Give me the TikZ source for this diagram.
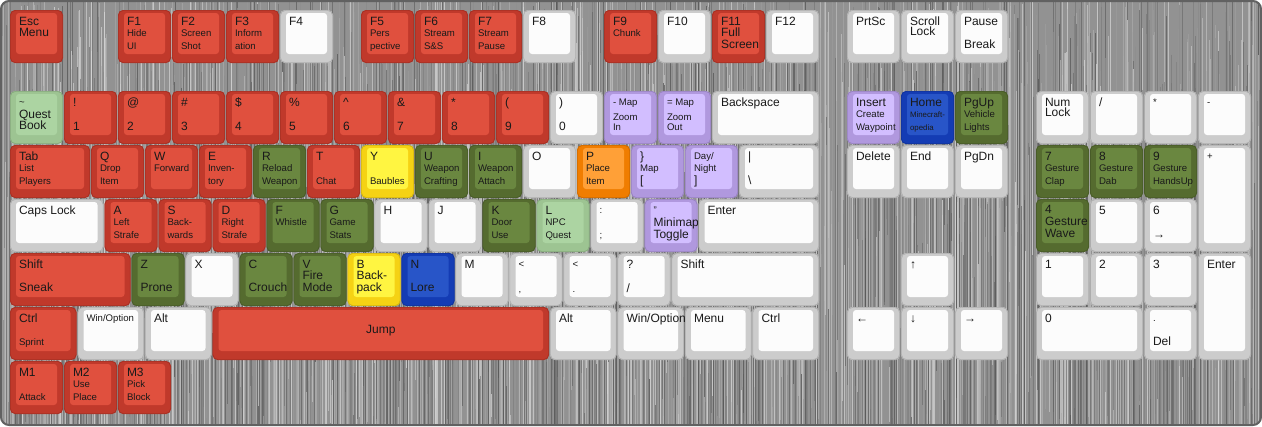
\documentclass[tikz,border=0pt]{standalone}
\usepackage{fontspec}
\setmainfont{Liberation Sans}
\newcounter{labn}
\definecolor{txt}{RGB}{26,26,26}
\definecolor{rdo}{RGB}{192,57,43}\definecolor{rdi}{RGB}{224,80,62}
\definecolor{dgo}{RGB}{85,107,47}\definecolor{dgi}{RGB}{106,135,64}
\definecolor{lgo}{RGB}{157,196,146}\definecolor{lgi}{RGB}{172,212,162}
\definecolor{yeo}{RGB}{245,210,20}\definecolor{yei}{RGB}{255,245,65}
\definecolor{blo}{RGB}{20,60,180}\definecolor{bli}{RGB}{40,85,200}
\definecolor{puo}{RGB}{176,152,222}\definecolor{pui}{RGB}{210,190,255}
\definecolor{oro}{RGB}{240,125,0}\definecolor{ori}{RGB}{255,160,55}
\definecolor{who}{RGB}{204,204,204}\definecolor{whi}{RGB}{252,252,252}
\definecolor{bgbase}{RGB}{146,146,146}
\newcommand\fL{\fontsize{9}{10}\selectfont}
\newcommand\fS{\fontsize{7.2}{8}\selectfont}
\newcommand\fT{\fontsize{5.9}{7}\selectfont}
\tikzset{lab/.style={inner sep=0pt,outer sep=0pt,text=txt}}
\newcommand\kbkey[7]{%
  \setcounter{labn}{0}%
  \def\kn{#1}%
  \pgfmathsetmacro\kx{10+#2*54}%
  \pgfmathsetmacro\ky{10+#3*54}%
  \pgfmathsetmacro\kw{#4*54-1}%
  \pgfmathsetmacro\kh{#5*54-1}%
  \fill[#6o,rounded corners=3.75pt] (\kx,\ky) rectangle ++(\kw,\kh);
  \draw[#6o!85!black,line width=0.5pt,rounded corners=3.75pt] (\kx+0.4,\ky+0.4) rectangle (\kx+\kw-0.4,\ky+\kh-0.4);
  \fill[#6i,rounded corners=2.25pt] (\kx+6,\ky+3) rectangle (\kx+\kw-6,\ky+\kh-9);
  #7}
\newcommand\KT[3]{\stepcounter{labn}\edef\nn{\kn-\arabic{labn}}%
  \node[lab,font=#2,anchor=base west] (\nn) at (\kx+9,\ky+#1) {#3};}
\newcommand\lbA[1]{\KT{15}{\fL}{#1}}
\newcommand\lbB[1]{\KT{26.7}{\fL}{#1}}
\newcommand\lbC[1]{\KT{38.7}{\fL}{#1}}
\newcommand\smA[1]{\KT{14}{\fS}{#1}}
\newcommand\smB[1]{\KT{26}{\fS}{#1}}
\newcommand\smC[1]{\KT{39}{\fS}{#1}}
\newcommand\ctr[1]{\stepcounter{labn}\edef\nn{\kn-\arabic{labn}}%
  \node[lab,font=\fL,anchor=center] (\nn) at (\kx+\kw/2,\ky+23.5) {#1};}
\begin{document}
\begin{tikzpicture}[x=0.75pt,y=-0.75pt]
\useasboundingbox (0,0) rectangle (1262,426);
\fill[white] (0,0) rectangle (1262,426);
\begin{scope}
\clip[rounded corners=6pt] (1,1) rectangle (1261,425);
\fill[bgbase] (0,0) rectangle (1262,426);
\pgfmathsetseed{7}
\foreach \i in {1,...,2400}{%
  \pgfmathsetmacro\rx{1+1260*rnd}%
  \pgfmathsetmacro\rg{33+52*rnd}%
  \pgfmathsetmacro\ry{-40+300*rnd}%
  \pgfmathsetmacro\rl{150+400*rnd}%
  \pgfmathsetmacro\rw{0.25+0.4*rnd}%
  \draw[line width=\rw pt,draw={white!\rg!black},opacity=0.75] (\rx,\ry) -- ++(0,\rl);
}
\end{scope}
\draw[black!62,line width=1.5pt,rounded corners=6pt] (1,1) rectangle (1261,425);
% row 0
\kbkey{esc}{0}{0}{1}{1}{rd}{\lbA{Esc}\lbB{Menu}}
\kbkey{f1}{2}{0}{1}{1}{rd}{\lbA{F1}\smB{Hide}\smC{UI}}
\kbkey{f2}{3}{0}{1}{1}{rd}{\lbA{F2}\smB{Screen}\smC{Shot}}
\kbkey{f3}{4}{0}{1}{1}{rd}{\lbA{F3}\smB{Inform}\smC{ation}}
\kbkey{f4}{5}{0}{1}{1}{wh}{\lbA{F4}}
\kbkey{f5}{6.5}{0}{1}{1}{rd}{\lbA{F5}\smB{Pers}\smC{pective}}
\kbkey{f6}{7.5}{0}{1}{1}{rd}{\lbA{F6}\smB{Stream}\smC{S\&S}}
\kbkey{f7}{8.5}{0}{1}{1}{rd}{\lbA{F7}\smB{Stream}\smC{Pause}}
\kbkey{f8}{9.5}{0}{1}{1}{wh}{\lbA{F8}}
\kbkey{f9}{11}{0}{1}{1}{rd}{\lbA{F9}\smB{Chunk}}
\kbkey{f10}{12}{0}{1}{1}{wh}{\lbA{F10}}
\kbkey{f11}{13}{0}{1}{1}{rd}{\lbA{F11}\lbB{Full}\lbC{Screen}}
\kbkey{f12}{14}{0}{1}{1}{wh}{\lbA{F12}}
\kbkey{prtsc}{15.5}{0}{1}{1}{wh}{\lbA{PrtSc}}
\kbkey{scrlk}{16.5}{0}{1}{1}{wh}{\lbA{Scroll}\KT{25.5}{\fL}{Lock}}
\kbkey{pause}{17.5}{0}{1}{1}{wh}{\lbA{Pause}\lbC{Break}}
% row 1
\kbkey{grave}{0}{1.5}{1}{1}{lg}{\smA{\textasciitilde}\KT{27.2}{\fL}{Quest}\lbC{Book}}
\kbkey{n1}{1}{1.5}{1}{1}{rd}{\lbA{!}\KT{39.5}{\fL}{1}}
\kbkey{n2}{2}{1.5}{1}{1}{rd}{\lbA{@}\KT{39.5}{\fL}{2}}
\kbkey{n3}{3}{1.5}{1}{1}{rd}{\lbA{\#}\KT{39.5}{\fL}{3}}
\kbkey{n4}{4}{1.5}{1}{1}{rd}{\lbA{\$}\KT{39.5}{\fL}{4}}
\kbkey{n5}{5}{1.5}{1}{1}{rd}{\lbA{\%}\KT{39.5}{\fL}{5}}
\kbkey{n6}{6}{1.5}{1}{1}{rd}{\lbA{\textasciicircum}\KT{39.5}{\fL}{6}}
\kbkey{n7}{7}{1.5}{1}{1}{rd}{\lbA{\&}\KT{39.5}{\fL}{7}}
\kbkey{n8}{8}{1.5}{1}{1}{rd}{\lbA{*}\KT{39.5}{\fL}{8}}
\kbkey{n9}{9}{1.5}{1}{1}{rd}{\lbA{(}\KT{39.5}{\fL}{9}}
\kbkey{n0}{10}{1.5}{1}{1}{wh}{\lbA{)}\KT{39.5}{\fL}{0}}
\kbkey{minus}{11}{1.5}{1}{1}{pu}{\smA{- Map}\KT{29}{\fS}{Zoom}\KT{39}{\fS}{In}}
\kbkey{equal}{12}{1.5}{1}{1}{pu}{\smA{= Map}\KT{29}{\fS}{Zoom}\KT{39}{\fS}{Out}}
\kbkey{bksp}{13}{1.5}{2}{1}{wh}{\lbA{Backspace}}
\kbkey{ins}{15.5}{1.5}{1}{1}{pu}{\lbA{Insert}\smB{Create}\smC{Waypoint}}
\kbkey{home}{16.5}{1.5}{1}{1}{bl}{\lbA{Home}\KT{26}{\fT}{Minecraft-}\KT{39}{\fT}{opedia}}
\kbkey{pgup}{17.5}{1.5}{1}{1}{dg}{\lbA{PgUp}\smB{Vehicle}\smC{Lights}}
\kbkey{numlk}{19}{1.5}{1}{1}{wh}{\lbA{Num}\KT{25.7}{\fL}{Lock}}
\kbkey{kpslash}{20}{1.5}{1}{1}{wh}{\lbA{/}}
\kbkey{kpstar}{21}{1.5}{1}{1}{wh}{\smA{*}}
\kbkey{kpminus}{22}{1.5}{1}{1}{wh}{\smA{-}}
% row 2
\kbkey{tab}{0}{2.5}{1.5}{1}{rd}{\lbA{Tab}\smB{List}\smC{Players}}
\kbkey{q}{1.5}{2.5}{1}{1}{rd}{\lbA{Q}\smB{Drop}\smC{Item}}
\kbkey{w}{2.5}{2.5}{1}{1}{rd}{\lbA{W}\smB{Forward}}
\kbkey{e}{3.5}{2.5}{1}{1}{rd}{\lbA{E}\smB{Inven-}\smC{tory}}
\kbkey{r}{4.5}{2.5}{1}{1}{dg}{\lbA{R}\smB{Reload}\smC{Weapon}}
\kbkey{t}{5.5}{2.5}{1}{1}{rd}{\lbA{T}\smC{Chat}}
\kbkey{y}{6.5}{2.5}{1}{1}{ye}{\lbA{Y}\smC{Baubles}}
\kbkey{u}{7.5}{2.5}{1}{1}{dg}{\lbA{U}\smB{Weapon}\smC{Crafting}}
\kbkey{i}{8.5}{2.5}{1}{1}{dg}{\lbA{I}\smB{Weapon}\smC{Attach}}
\kbkey{o}{9.5}{2.5}{1}{1}{wh}{\lbA{O}}
\kbkey{p}{10.5}{2.5}{1}{1}{or}{\lbA{P}\smB{Place}\smC{Item}}
\kbkey{lbrack}{11.5}{2.5}{1}{1}{pu}{\lbA{\}}\smB{Map}\KT{39.5}{\fL}{[}}
\kbkey{rbrack}{12.5}{2.5}{1}{1}{pu}{\smA{Day/}\smB{Night}\KT{39.5}{\fL}{]}}
\kbkey{bslash}{13.5}{2.5}{1.5}{1}{wh}{\lbA{|}\KT{39.5}{\fL}{\textbackslash}}
\kbkey{del}{15.5}{2.5}{1}{1}{wh}{\lbA{Delete}}
\kbkey{end}{16.5}{2.5}{1}{1}{wh}{\lbA{End}}
\kbkey{pgdn}{17.5}{2.5}{1}{1}{wh}{\lbA{PgDn}}
\kbkey{kp7}{19}{2.5}{1}{1}{dg}{\lbA{7}\smB{Gesture}\smC{Clap}}
\kbkey{kp8}{20}{2.5}{1}{1}{dg}{\lbA{8}\smB{Gesture}\smC{Dab}}
\kbkey{kp9}{21}{2.5}{1}{1}{dg}{\lbA{9}\smB{Gesture}\smC{HandsUp}}
\kbkey{kpplus}{22}{2.5}{1}{2}{wh}{\smA{+}}
% row 3
\kbkey{caps}{0}{3.5}{1.75}{1}{wh}{\lbA{Caps Lock}}
\kbkey{a}{1.75}{3.5}{1}{1}{rd}{\lbA{A}\smB{Left}\smC{Strafe}}
\kbkey{s}{2.75}{3.5}{1}{1}{rd}{\lbA{S}\smB{Back-}\smC{wards}}
\kbkey{d}{3.75}{3.5}{1}{1}{rd}{\lbA{D}\smB{Right}\smC{Strafe}}
\kbkey{f}{4.75}{3.5}{1}{1}{dg}{\lbA{F}\smB{Whistle}}
\kbkey{g}{5.75}{3.5}{1}{1}{dg}{\lbA{G}\smB{Game}\smC{Stats}}
\kbkey{h}{6.75}{3.5}{1}{1}{wh}{\lbA{H}}
\kbkey{j}{7.75}{3.5}{1}{1}{wh}{\lbA{J}}
\kbkey{k}{8.75}{3.5}{1}{1}{dg}{\lbA{K}\smB{Door}\smC{Use}}
\kbkey{l}{9.75}{3.5}{1}{1}{lg}{\lbA{L}\smB{NPC}\smC{Quest}}
\kbkey{semi}{10.75}{3.5}{1}{1}{wh}{\smA{:}\smC{;}}
\kbkey{quote}{11.75}{3.5}{1}{1}{pu}{\smA{"}\KT{27.5}{\fL}{Minimap}\KT{39}{\fL}{Toggle}}
\kbkey{enter}{12.75}{3.5}{2.25}{1}{wh}{\lbA{Enter}}
\kbkey{kp4}{19}{3.5}{1}{1}{dg}{\KT{14.5}{\fL}{4}\KT{26.3}{\fL}{Gesture}\lbC{Wave}}
\kbkey{kp5}{20}{3.5}{1}{1}{wh}{\lbA{5}}
\kbkey{kp6}{21}{3.5}{1}{1}{wh}{\lbA{6}\KT{39.5}{\fL}{→}}
% row 4
\kbkey{lshift}{0}{4.5}{2.25}{1}{rd}{\lbA{Shift}\lbC{Sneak}}
\kbkey{z}{2.25}{4.5}{1}{1}{dg}{\lbA{Z}\lbC{Prone}}
\kbkey{x}{3.25}{4.5}{1}{1}{wh}{\lbA{X}}
\kbkey{c}{4.25}{4.5}{1}{1}{dg}{\lbA{C}\lbC{Crouch}}
\kbkey{v}{5.25}{4.5}{1}{1}{dg}{\lbA{V}\lbB{Fire}\lbC{Mode}}
\kbkey{b}{6.25}{4.5}{1}{1}{ye}{\lbA{B}\lbB{Back-}\lbC{pack}}
\kbkey{n}{7.25}{4.5}{1}{1}{bl}{\lbA{N}\lbC{Lore}}
\kbkey{m}{8.25}{4.5}{1}{1}{wh}{\lbA{M}}
\kbkey{comma}{9.25}{4.5}{1}{1}{wh}{\smA{<}\smC{,}}
\kbkey{period}{10.25}{4.5}{1}{1}{wh}{\smA{<}\smC{.}}
\kbkey{slash}{11.25}{4.5}{1}{1}{wh}{\lbA{?}\KT{39.5}{\fL}{/}}
\kbkey{rshift}{12.25}{4.5}{2.75}{1}{wh}{\lbA{Shift}}
\kbkey{up}{16.5}{4.5}{1}{1}{wh}{\lbA{↑}}
\kbkey{kp1}{19}{4.5}{1}{1}{wh}{\lbA{1}}
\kbkey{kp2}{20}{4.5}{1}{1}{wh}{\lbA{2}}
\kbkey{kp3}{21}{4.5}{1}{1}{wh}{\lbA{3}}
\kbkey{kpenter}{22}{4.5}{1}{2}{wh}{\lbA{Enter}}
% row 5
\kbkey{lctrl}{0}{5.5}{1.25}{1}{rd}{\lbA{Ctrl}\KT{38.3}{\fS}{Sprint}}
\kbkey{lwin}{1.25}{5.5}{1.25}{1}{wh}{\smA{Win/Option}}
\kbkey{lalt}{2.5}{5.5}{1.25}{1}{wh}{\lbA{Alt}}
\kbkey{space}{3.75}{5.5}{6.25}{1}{rd}{\ctr{Jump}}
\kbkey{ralt}{10}{5.5}{1.25}{1}{wh}{\lbA{Alt}}
\kbkey{rwin}{11.25}{5.5}{1.25}{1}{wh}{\lbA{Win/Option}}
\kbkey{menu}{12.5}{5.5}{1.25}{1}{wh}{\lbA{Menu}}
\kbkey{rctrl}{13.75}{5.5}{1.25}{1}{wh}{\lbA{Ctrl}}
\kbkey{left}{15.5}{5.5}{1}{1}{wh}{\lbA{←}}
\kbkey{down}{16.5}{5.5}{1}{1}{wh}{\lbA{↓}}
\kbkey{right}{17.5}{5.5}{1}{1}{wh}{\lbA{→}}
\kbkey{kp0}{19}{5.5}{2}{1}{wh}{\lbA{0}}
\kbkey{kpdot}{21}{5.5}{1}{1}{wh}{\smA{.}\lbC{Del}}
% row 6
\kbkey{m1}{0}{6.5}{1}{1}{rd}{\lbA{M1}\smC{Attack}}
\kbkey{m2}{1}{6.5}{1}{1}{rd}{\lbA{M2}\smB{Use}\smC{Place}}
\kbkey{m3}{2}{6.5}{1}{1}{rd}{\lbA{M3}\smB{Pick}\smC{Block}}
\end{tikzpicture}
\end{document}
